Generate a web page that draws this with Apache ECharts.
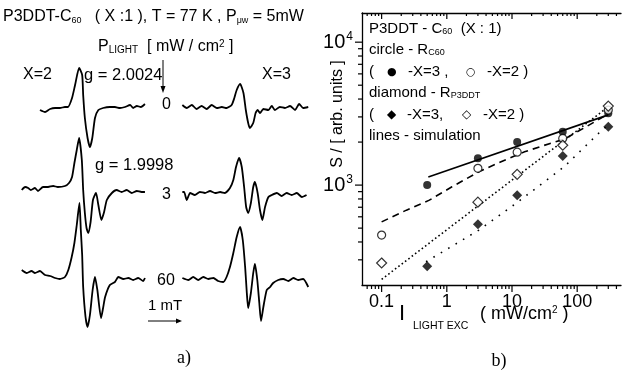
<!DOCTYPE html>
<html>
<head>
<meta charset="utf-8">
<script src="https://cdn.jsdelivr.net/npm/echarts@6/dist/echarts.min.js"></script>
<style>
  html, body { margin: 0; background: #fff; }
  #chart { width: 624px; height: 375px; }
</style>
</head>
<body>
<div id="chart"></div>
<script>
// ---- panel a: EPR spectra, points are [B (mT), signal (arb.)]
const specX2_P0 = [[0.74,-2],[0.89,-4],[1.04,-1],[1.19,0],[1.33,0],[1.48,1],[1.57,1],[1.69,10],[1.78,23],[1.90,40],[1.99,33],[2.02,13],[2.07,-10],[2.15,-30],[2.22,-39],[2.29,-30],[2.37,-10],[2.47,-2],[2.61,0],[2.81,1],[2.96,1],[3.11,0],[3.26,1],[3.41,3],[3.50,0],[3.61,2],[3.73,1],[3.85,4]];
const specX2_P3 = [[0.20,0],[0.30,3],[0.39,2],[0.47,0],[0.59,2],[0.68,-1],[0.83,3],[0.98,3],[1.13,4],[1.27,3],[1.48,4],[1.60,7],[1.69,13],[1.76,27],[1.83,40],[1.90,52],[1.98,30],[2.02,0],[2.07,-23],[2.12,-38],[2.17,-43],[2.24,-32],[2.31,-10],[2.40,-3],[2.47,-15],[2.56,-30],[2.64,-22],[2.72,-10],[2.87,-3],[3.01,0],[3.16,-2],[3.31,0],[3.46,-3],[3.61,-1],[3.75,-2],[3.85,-2]];
const specX2_P60 = [[0.20,8],[0.35,5],[0.49,7],[0.59,5],[0.74,7],[0.89,3],[1.04,2],[1.19,0],[1.33,-1],[1.48,1],[1.58,8],[1.68,21],[1.76,35],[1.83,53],[1.91,75],[1.95,48],[1.99,23],[2.02,-9],[2.09,-39],[2.15,-49],[2.22,-37],[2.30,-12],[2.37,1],[2.44,-12],[2.55,-40],[2.61,-30],[2.67,-19],[2.81,-7],[2.96,-4],[3.06,1],[3.21,-1],[3.36,0],[3.50,-2],[3.65,0],[3.80,-3],[3.85,0]];
const specX3_P0 = [[0.07,2],[0.20,-1],[0.35,2],[0.49,-2],[0.64,1],[0.79,-2],[0.94,2],[1.09,-1],[1.24,0],[1.38,-1],[1.53,2],[1.61,9],[1.68,17],[1.78,23],[1.88,14],[1.95,-3],[2.02,-16],[2.07,-21],[2.17,-16],[2.24,-6],[2.30,-3],[2.37,-6],[2.47,-2],[2.62,-3],[2.72,1],[2.81,-3],[2.96,0],[3.11,-1],[3.26,1],[3.41,-3],[3.53,3],[3.65,-1],[3.80,0]];
const specX3_P3 = [[0.07,1],[0.12,1],[0.20,-7],[0.30,0],[0.44,-2],[0.59,1],[0.74,0],[0.89,2],[1.04,0],[1.19,1],[1.33,0],[1.48,5],[1.58,13],[1.66,26],[1.75,35],[1.83,26],[1.90,6],[1.96,-14],[2.02,-20],[2.10,-10],[2.17,6],[2.22,11],[2.30,0],[2.37,-17],[2.44,-27],[2.52,-14],[2.62,-4],[2.72,-2],[2.87,0],[3.01,-3],[3.16,0],[3.31,-2],[3.46,0],[3.61,-4],[3.75,-2]];
const specX3_P60 = [[0.07,2],[0.25,0],[0.39,3],[0.54,0],[0.69,3],[0.84,1],[0.99,2],[1.13,-1],[1.28,-2],[1.38,3],[1.48,13],[1.58,27],[1.68,43],[1.78,53],[1.86,40],[1.93,13],[1.98,-13],[2.02,-28],[2.10,-13],[2.17,7],[2.22,16],[2.29,0],[2.35,-23],[2.40,-41],[2.47,-27],[2.57,-10],[2.67,-7],[2.76,-3],[2.91,0],[3.06,1],[3.21,-1],[3.36,2],[3.50,0],[3.65,1],[3.80,-7]];

// ---- panel b: S vs light intensity, [I (mW/cm2), S (arb.)]
const circleX3 = [[0.5,1000],[3,1540],[12,2000],[60,2360],[300,3180]];
const circleX2 = [[0.1,447],[3,1310],[12,1700],[60,2120],[300,3350]];
const diamondX2 = [[0.1,285],[3,760],[12,1190],[60,1900],[300,3570]];
const diamondX3 = [[0.5,270],[3,533],[12,850],[60,1600],[300,2560]];
const simCircleX3 = [[0.52,1140],[300,3100]];
const simCircleX2 = [[0.1,553],[0.24,668],[0.54,785],[1.2,973],[3.1,1240],[6.8,1456],[15.6,1710],[38.5,1958],[63,2090],[284,3100]];
const simDiamondX2 = [[0.1,219],[300,3530]];
const simDiamondX3 = [[0.48,291],[3.1,484],[12.4,764],[63,1343],[225,2360],[300,2630]];

const xMajor = [0.1, 1, 10, 100];
const xMinor = [0.06,0.07,0.08,0.09,0.2,0.3,0.4,0.5,0.6,0.7,0.8,0.9,2,3,4,5,6,7,8,9,20,30,40,50,60,70,80,90,200,300,400];
const yMajor = [1000, 10000];
const yMinor = [300,400,500,600,700,800,900,2000,3000,4000,5000,6000,7000,8000,9000];
const xMin = 0.05, xMax = 470, yMin = 200, yMax = 16000;

const FONT = '"Liberation Sans", Arial, sans-serif';
const chart = echarts.init(document.getElementById('chart'), null, { renderer: 'canvas' });

// one small grid per spectrum
const spectra = [
  { data: specX2_P0, left: 15, top: 28 },
  { data: specX2_P3, left: 15, top: 110 },
  { data: specX2_P60, left: 15, top: 198 },
  { data: specX3_P0, left: 180, top: 27 },
  { data: specX3_P3, left: 180, top: 113 },
  { data: specX3_P60, left: 180, top: 200 }
];

const grids = spectra.map(s => ({ left: s.left, top: s.top, width: 135, height: 160 }));
grids.push({ left: 362, right: 0, top: 13, bottom: 90 });

const xAxes = spectra.map((s, i) => ({ type: 'value', gridIndex: i, min: 0, max: 4, show: false }));
const yAxes = spectra.map((s, i) => ({ type: 'value', gridIndex: i, min: -80, max: 80, show: false }));

xAxes.push({
  type: 'log', gridIndex: 6, min: xMin, max: xMax, position: 'bottom',
  axisLine: { show: true, lineStyle: { color: '#000', width: 1.3 } },
  axisTick: { show: false }, splitLine: { show: false },
  axisLabel: {
    margin: 8, color: '#000', fontFamily: FONT, fontSize: 18,
    formatter: v => xMajor.some(m => Math.abs(m - v) < 1e-6 * m) ? String(v) : ''
  }
});
xAxes.push({
  type: 'log', gridIndex: 6, min: xMin, max: xMax, position: 'top',
  axisLine: { show: true, lineStyle: { color: '#000', width: 1.3 } },
  axisTick: { show: false }, axisLabel: { show: false }, splitLine: { show: false }
});
yAxes.push({
  type: 'log', gridIndex: 6, min: yMin, max: yMax,
  axisLine: { show: true, lineStyle: { color: '#000', width: 1.3 } },
  axisTick: { show: false }, splitLine: { show: false },
  axisLabel: {
    margin: 9, color: '#000', fontFamily: FONT,
    formatter: v => {
      if (Math.abs(v - 1000) < 1e-3) return '{b|10}{p|3}';
      if (Math.abs(v - 10000) < 1e-3) return '{b|10}{p|4}';
      return '';
    },
    rich: {
      b: { fontSize: 20, fontFamily: FONT, color: '#000' },
      p: { fontSize: 12, fontFamily: FONT, color: '#000', verticalAlign: 'top', padding: [0, 0, 10, 1] }
    }
  }
});

const series = spectra.map((s, i) => ({
  type: 'line', xAxisIndex: i, yAxisIndex: i, data: s.data,
  showSymbol: false, smooth: 0.2, animation: false,
  lineStyle: { color: '#000', width: 1.8 }
}));

function tickSeries(values, dir, len, axisVal) {
  return {
    type: 'custom', xAxisIndex: 6, yAxisIndex: 6, animation: false, silent: true,
    data: values.map(v => dir === 'y' ? [axisVal, v] : [v, axisVal]),
    renderItem: (params, api) => {
      const p = api.coord([api.value(0), api.value(1)]);
      let shape;
      if (dir === 'y') shape = { x1: p[0], y1: p[1], x2: p[0] - len, y2: p[1] };
      else shape = { x1: p[0], y1: p[1], x2: p[0], y2: p[1] + len };
      return { type: 'line', shape, style: { stroke: '#000', lineWidth: 1.2 } };
    }
  };
}
series.push(tickSeries(xMajor, 'x', 7, yMin));
series.push(tickSeries(xMinor, 'x', 4, yMin));
series.push(tickSeries(xMajor, 'x', 6, yMax));
series.push(tickSeries(xMinor, 'x', 3, yMax));
series.push(tickSeries(yMajor, 'y', 7, xMin));
series.push(tickSeries(yMinor, 'y', 4, xMin));

function simLine(data, type) {
  return {
    type: 'line', xAxisIndex: 6, yAxisIndex: 6, data, showSymbol: false, animation: false, z: 2,
    lineStyle: { color: '#000', width: 1.6, type }
  };
}
series.push(simLine(simCircleX3, 'solid'));
series.push(simLine(simCircleX2, [7, 5]));
series.push(simLine(simDiamondX2, [1.6, 2.6]));
series.push(simLine(simDiamondX3, [1.6, 7]));

function pts(data, symbol, filled, size) {
  return {
    type: 'scatter', xAxisIndex: 6, yAxisIndex: 6, data, symbol, symbolSize: size, animation: false, z: 5,
    itemStyle: filled ? { color: '#000' } : { color: '#fff', borderColor: '#000', borderWidth: 1.2 }
  };
}
series.push(pts(circleX3, 'circle', true, 8));
series.push(pts(circleX2, 'circle', false, 8));
series.push(pts(diamondX2, 'diamond', false, 10));
series.push(pts(diamondX3, 'diamond', true, 10));

function txt(text, x, y, size, font) {
  return {
    type: 'text', x, y, silent: true,
    style: { text, fontSize: size, fontFamily: font || FONT, fill: '#000', verticalAlign: 'middle', align: 'left' }
  };
}
function rich(text, x, y, size, subSize) {
  const ss = subSize || 9;
  return {
    type: 'text', x, y, silent: true,
    style: {
      text, fontFamily: FONT, fill: '#000', verticalAlign: 'middle', align: 'left',
      rich: {
        n: { fontSize: size, fontFamily: FONT, fill: '#000' },
        s: { fontSize: ss, fontFamily: FONT, fill: '#000', verticalAlign: 'bottom' },
        p: { fontSize: ss, fontFamily: FONT, fill: '#000', verticalAlign: 'top' }
      }
    }
  };
}
const serif = '"Liberation Serif", "Times New Roman", serif';
const glyph = '"DejaVu Sans", sans-serif';

const graphic = [
  // panel a labels
  rich('{n|P3DDT-C}{s|60}{n|   ( X :1 ), T = 77 K , P}{s|μw}{n| = 5mW}', 3, 17, 16),
  rich('{n|P}{s|LIGHT}{n|  [ mW / cm}{p|2}{n| ]}', 98, 47, 16, 10),
  txt('X=2', 23, 75, 16),
  txt('g = 2.0024', 84, 75, 16.5),
  txt('X=3', 262, 75, 16),
  { type: 'line', shape: { x1: 163, y1: 60, x2: 163, y2: 90 }, style: { stroke: '#000', lineWidth: 1 } },
  { type: 'polygon', shape: { points: [[160.5, 86], [165.5, 86], [163, 93]] }, style: { fill: '#000' } },
  txt('0', 162, 105, 16),
  txt('g = 1.9998', 95, 165, 16.5),
  txt('3', 162, 195, 16),
  txt('60', 157, 281, 16),
  txt('1 mT', 148, 306, 15),
  { type: 'line', shape: { x1: 148, y1: 321, x2: 180, y2: 321 }, style: { stroke: '#000', lineWidth: 1 } },
  { type: 'polygon', shape: { points: [[176, 318.5], [176, 323.5], [182, 321]] }, style: { fill: '#000' } },
  { type: 'text', x: 184, y: 358, style: { text: 'a)', font: '18px ' + serif, fill: '#000', align: 'center', verticalAlign: 'middle' } },
  { type: 'text', x: 499, y: 361, style: { text: 'b)', font: '18px ' + serif, fill: '#000', align: 'center', verticalAlign: 'middle' } },
  // panel b inner legend
  rich('{n|P3DDT - C}{s|60}{n|  (X : 1)}', 369, 29, 15, 9),
  rich('{n|circle - R}{s|C60}', 369, 50, 15, 9),
  txt('(', 369, 72, 15), txt('●', 387, 72, 11, glyph), txt('-X=3 ,', 408, 72, 15),
  txt('○', 466, 72, 11, glyph), txt('-X=2 )', 487, 72, 15),
  rich('{n|diamond - R}{s|P3DDT}', 369, 93, 15, 9),
  txt('(', 369, 115, 15), txt('◆', 387, 115, 12, glyph), txt('-X=3,', 407, 115, 15),
  txt('◇', 462, 115, 12, glyph), txt('-X=2 )', 483, 115, 15),
  txt('lines - simulation', 369, 136, 15),
  // axis names
  { type: 'text', x: 338, y: 114, rotation: Math.PI / 2, style: { text: 'S / [ arb. units ]', fontSize: 16, fontFamily: FONT, fill: '#000', align: 'center', verticalAlign: 'middle' } },
  txt('I', 399, 314, 22),
  txt('LIGHT EXC', 413, 326, 10.5),
  rich('{n|( mW/cm}{p|2}{n| )}', 480, 314, 18, 10)
];

chart.setOption({
  animation: false,
  backgroundColor: '#fff',
  grid: grids,
  xAxis: xAxes,
  yAxis: yAxes,
  series,
  graphic
});
</script>
</body>
</html>
